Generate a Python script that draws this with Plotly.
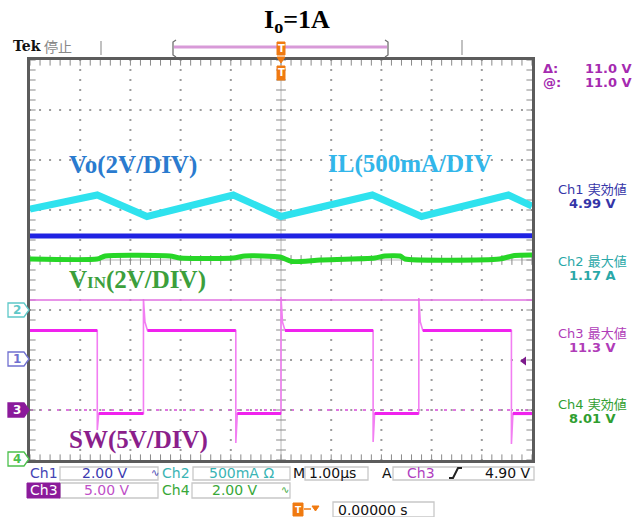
import numpy as np
import plotly.graph_objects as go

# ---------------- data ----------------
# time axis: 1.00 us/div, 10 divisions, trigger at centre
t_range_us = [-5.0, 5.0]

# Ch2: inductor current IL (A), vertices of the triangular ripple
il_t_us = [-5.0, -3.66, -2.67, -0.95, 0.0, 1.82, 2.80, 4.53, 5.0]
il_a = [1.01, 1.15, 0.935, 1.15, 0.935, 1.15, 0.935, 1.15, 1.04]

# Ch1: output voltage Vo (V)
vo_t_us = [-5.0, -2.5, 0.0, 2.5, 5.0]
vo_v = [4.96, 4.97, 4.96, 4.96, 4.97]

# Ch4: input voltage Vin (V)
vin_t_us = [-5.0, -3.66, -3.5, -2.21, -2.01, -0.95, -0.72, -0.02, 0.22, 0.78,
            1.87, 2.07, 2.37, 2.47, 4.35, 4.65, 5.0]
vin_v = [8.04, 8.04, 8.16, 8.16, 8.08, 8.08, 8.16, 8.12, 7.94, 8.0,
         8.08, 8.16, 8.16, 8.04, 8.04, 8.18, 8.2]

# Ch3: switch node SW (V)
sw_fall_us = [-3.66, -0.90, 1.835, 4.59]
sw_rise_us = [-2.74, 0.0, 2.745]
sw_undershoot_v = [-2.0, -3.3, -3.2, -3.4]
sw_overshoot_v = [11.1, 11.3, 11.2]
sw_high_v = 7.95
sw_low_v = -0.35
sw_ring_v = 8.8

cursor_v = 11.0          # horizontal cursor on Ch3
trigger_v = 4.90         # Ch3 trigger level

# channel settings: (scale per div, ground position in div from centre)
ch1_scale, ch1_pos = 2.0, -2.0
ch2_scale, ch2_pos = 0.5, -1.0
ch3_scale, ch3_pos = 5.0, -3.0
ch4_scale, ch4_pos = 2.0, -4.0

readout_titles = ["Ch1 実効値", "Ch2 最大値", "Ch3 最大値", "Ch4 実効値"]
readout_values = ["4.99 V", "1.17 A", "11.3 V", "8.01 V"]
readout_colors = ["#3535a8", "#2aa8a8", "#b03cb8", "#2f9e2f"]
readout_y_px = [188, 260, 332, 403]

# ---------------- geometry helpers ----------------
W, H = 636, 517
L, R, T, B = 30, 532, 60, 460


def px(x):
    return (x - L) / (R - L)


def py(y):
    return (B - y) / (B - T)


def ch_range(scale, pos):
    return [(-4 - pos) * scale, (4 - pos) * scale]


fig = go.Figure()

# ---------------- graticule (dots and ticks) ----------------
GRID = "#9c9c9c"
fine_y = np.round(np.arange(-4, 4.001, 0.2), 3)
fine_x = np.round(np.arange(-5, 5.001, 0.2), 3)
dot_x, dot_y = [], []
for gx in [-4, -3, -2, -1, 1, 2, 3, 4]:
    dot_x += [gx] * len(fine_y)
    dot_y += list(fine_y)
for gy in [-3, -2, -1, 1, 2, 3]:
    dot_x += list(fine_x)
    dot_y += [gy] * len(fine_x)
fig.add_trace(go.Scatter(x=dot_x, y=dot_y, mode="markers",
                         marker=dict(symbol="square", size=2, color=GRID, line=dict(width=0)),
                         hoverinfo="skip", showlegend=False))
# centre-line ticks
fig.add_trace(go.Scatter(x=[0] * len(fine_y), y=fine_y, mode="markers",
                         marker=dict(symbol="line-ew", size=7,
                                     line=dict(width=1, color="#8a8a8a")),
                         hoverinfo="skip", showlegend=False))
fig.add_trace(go.Scatter(x=fine_x, y=[0] * len(fine_x), mode="markers",
                         marker=dict(symbol="line-ns", size=7,
                                     line=dict(width=1, color="#8a8a8a")),
                         hoverinfo="skip", showlegend=False))
# border ticks (half of each mark is clipped away by the plot edge)
fig.add_trace(go.Scatter(x=list(fine_x) * 2, y=[4] * len(fine_x) + [-4] * len(fine_x),
                         mode="markers", cliponaxis=True,
                         marker=dict(symbol="line-ns", size=8,
                                     line=dict(width=1, color="#8a8a8a")),
                         hoverinfo="skip", showlegend=False))
fig.add_trace(go.Scatter(x=[-5] * len(fine_y) + [5] * len(fine_y), y=list(fine_y) * 2,
                         mode="markers", cliponaxis=True,
                         marker=dict(symbol="line-ew", size=8,
                                     line=dict(width=1, color="#8a8a8a")),
                         hoverinfo="skip", showlegend=False))

# ---------------- waveforms ----------------
fig.add_trace(go.Scatter(x=il_t_us, y=il_a, mode="lines", yaxis="y3",
                         line=dict(color="#2fe2ee", width=7),
                         showlegend=False, hoverinfo="skip"))
fig.add_trace(go.Scatter(x=vo_t_us, y=vo_v, mode="lines", yaxis="y2",
                         line=dict(color="#1f22e2", width=5),
                         showlegend=False, hoverinfo="skip"))
fig.add_trace(go.Scatter(x=vin_t_us, y=vin_v, mode="lines", yaxis="y5",
                         line=dict(color="#27d627", width=5, shape="spline", smoothing=0.6),
                         showlegend=False, hoverinfo="skip"))

# SW path built from the edge times and levels
edges = sorted([(t, "f", i) for i, t in enumerate(sw_fall_us)] +
               [(t, "r", i) for i, t in enumerate(sw_rise_us)])
state = sw_high_v if edges[0][1] == "f" else sw_low_v
sx, sy = [t_range_us[0]], [state]
lx, ly = [t_range_us[0]], [state]
for t, kind, i in edges:
    if kind == "f":
        sx += [t, t, t + 0.03]
        sy += [sw_high_v, sw_undershoot_v[i], sw_low_v]
        lx += [t, None, t + 0.03]
        ly += [sw_high_v, None, sw_low_v]
        state = sw_low_v
    else:
        sx += [t, t, t + 0.03, t + 0.08]
        sy += [sw_low_v, sw_overshoot_v[i], sw_ring_v, sw_high_v]
        lx += [t, None, t + 0.08]
        ly += [sw_low_v, None, sw_high_v]
        state = sw_high_v
sx.append(t_range_us[1]); sy.append(state)
lx.append(t_range_us[1]); ly.append(state)

fig.add_trace(go.Scatter(x=sx, y=sy, mode="lines", yaxis="y4",
                         line=dict(color="#f27ef2", width=1.6),
                         showlegend=False, hoverinfo="skip"))
fig.add_trace(go.Scatter(x=lx, y=ly, mode="lines", yaxis="y4",
                         line=dict(color="#f022ee", width=3.2),
                         connectgaps=False, showlegend=False, hoverinfo="skip"))
# trigger level arrow
fig.add_trace(go.Scatter(x=[4.84], y=[trigger_v], mode="markers", yaxis="y4",
                         marker=dict(symbol="triangle-left", size=8, color="#7d1a8c"),
                         showlegend=False, hoverinfo="skip"))

# ---------------- axes ----------------
common = dict(showticklabels=False, zeroline=False, fixedrange=True, showgrid=False,
              ticks="")
fig.update_layout(
    width=W, height=H, autosize=False,
    margin=dict(l=L, r=W - R, t=T, b=H - B, pad=0),
    paper_bgcolor="white", plot_bgcolor="white",
    xaxis=dict(range=t_range_us, showline=True, linecolor="#5c5c5c", linewidth=3,
               mirror=True, **common),
    yaxis=dict(range=[-4, 4], showline=True, linecolor="#5c5c5c", linewidth=3,
               mirror=True, **common),
    yaxis2=dict(range=ch_range(ch1_scale, ch1_pos), overlaying="y", visible=False, **common),
    yaxis3=dict(range=ch_range(ch2_scale, ch2_pos), overlaying="y", visible=False, **common),
    yaxis4=dict(range=ch_range(ch3_scale, ch3_pos), overlaying="y", visible=False, **common),
    yaxis5=dict(range=ch_range(ch4_scale, ch4_pos), overlaying="y", visible=False, **common),
)

shapes = []
# centre cross lines
shapes.append(dict(type="line", xref="x", yref="paper", x0=0, x1=0, y0=0, y1=1,
                   line=dict(color="#b8b8b8", width=1), layer="below"))
shapes.append(dict(type="line", xref="paper", yref="y", x0=0, x1=1, y0=0, y1=0,
                   line=dict(color="#b8b8b8", width=1), layer="below"))
# Ch3 cursor and Ch3 ground reference
shapes.append(dict(type="line", xref="paper", yref="y4", x0=0, x1=1, y0=cursor_v, y1=cursor_v,
                   line=dict(color="#e070e0", width=1.5)))
shapes.append(dict(type="line", xref="paper", yref="y4", x0=0, x1=1, y0=0, y1=0,
                   line=dict(color="#d84ad8", width=1.3, dash="3px,6px"), layer="below"))


def pline(x0, y0, x1, y1, color, width):
    shapes.append(dict(type="line", xref="paper", yref="paper",
                       x0=px(x0), y0=py(y0), x1=px(x1), y1=py(y1),
                       line=dict(color=color, width=width)))


def prect(x0, y0, x1, y1, line, fill, width=1.3):
    shapes.append(dict(type="rect", xref="paper", yref="paper",
                       x0=px(x0), y0=py(y0), x1=px(x1), y1=py(y1),
                       line=dict(color=line, width=width), fillcolor=fill))


def ppath(pts, line, fill=None, width=1.3, closed=True):
    d = "M " + " L ".join(f"{px(a):.5f},{py(b):.5f}" for a, b in pts)
    if closed:
        d += " Z"
    s = dict(type="path", xref="paper", yref="paper", path=d,
             line=dict(color=line, width=width))
    if fill:
        s["fillcolor"] = fill
    shapes.append(s)


# top record-length bar
pline(101, 41, 101, 55, "#a0a0a0", 1.3)
pline(462, 40, 462, 55, "#a0a0a0", 1.3)
ppath([(176, 40), (173, 42), (173, 55), (176, 57)], "#707070", width=1.3, closed=False)
ppath([(385, 40), (388, 42), (388, 55), (385, 57)], "#707070", width=1.3, closed=False)
pline(174, 47, 387, 47, "#d89ad8", 3)
# trigger position markers (orange)
prect(277, 42, 285, 55, "#f07a10", "#f07a10", 1)
ppath([(277, 57), (285, 57), (281, 63)], "#f07a10", "#f07a10", 1)
prect(277, 66, 285, 80, "#f07a10", "#f07a10", 1)

# left channel markers
ppath([(8, 303), (24, 303), (29, 310), (24, 317), (8, 317)], "#5ec8c8", "white", 1.3)
ppath([(8, 352), (24, 352), (29, 359), (24, 366), (8, 366)], "#7070d0", "white", 1.3)
ppath([(8, 403), (24, 403), (29, 410), (24, 417), (8, 417)], "#8b1a9b", "#8b1a9b", 1.3)
ppath([(8, 452), (24, 452), (29, 459), (24, 466), (8, 466)], "#4cc04c", "white", 1.3)

# status boxes
box_line = "#c8c8c8"
prect(60, 467, 158, 480, box_line, "white")
prect(193, 467, 290, 480, box_line, "white")
prect(305, 467, 368, 480, box_line, "white")
prect(393, 467, 534, 480, box_line, "white")
prect(60, 483, 158, 498, box_line, "white")
prect(192, 483, 290, 498, box_line, "white")
prect(27, 483, 60, 498, "#8b1a9b", "#8b1a9b", 1)
prect(333, 502, 434, 517, box_line, "white")
# trigger slope symbol
ppath([(449, 478), (453, 478), (458, 468), (462, 468)], "#222222", width=2, closed=False)
# horizontal position icon
prect(293, 503, 303, 516, "#f07a10", "#f07a10", 1)
pline(304, 509, 311, 509, "#f07a10", 1.5)
ppath([(312, 506), (319, 506), (315.5, 511)], "#f07a10", "#f07a10", 1)

fig.update_layout(shapes=shapes)

anns = []


def ann(x, y, text, color="black", size=13, family="DejaVu Sans", xanchor="left",
        yanchor="middle", bold=False):
    if bold:
        text = f"<b>{text}</b>"
    anns.append(dict(xref="paper", yref="paper", x=px(x), y=py(y), text=text,
                     showarrow=False, xanchor=xanchor, yanchor=yanchor,
                     font=dict(color=color, size=size, family=family)))


serif = "Liberation Serif"
# title
ann(297, 21, "I<sub>o</sub>=1A", "black", 26, serif, "center", bold=True)
# header
ann(11, 46, "Tek", "#111111", 14, "DejaVu Serif", bold=True)
ann(42, 46, "停止", "#888888", 14, "Noto Sans CJK JP")
# channel labels inside the graticule
ann(67, 165, "Vo(2V/DIV)", "#2a7bcf", 25, serif, bold=True)
ann(326, 164, "IL(500mA/DIV", "#32b6ea", 25, serif, bold=True)
ann(67, 280, "V<span style='font-size:17px'>IN</span>(2V/DIV)", "#3c9f3c", 25, serif, bold=True)
ann(67, 440, "SW(5V/DIV)", "#8b1f8b", 25, serif, bold=True)
# cursor readout
ann(541, 68, "Δ:", "#a52ab0", 13, bold=True)
ann(634, 68, "11.0 V", "#a52ab0", 13, xanchor="right", bold=True)
ann(541, 82, "@:", "#a52ab0", 13, bold=True)
ann(634, 82, "11.0 V", "#a52ab0", 13, xanchor="right", bold=True)
# measurement readouts
for ttl, val, col, yy in zip(readout_titles, readout_values, readout_colors, readout_y_px):
    ch, meas = ttl.split(" ")
    ann(592, yy, f"{ch} <span style='font-family:Noto Sans CJK JP'>{meas}</span>", col, 13,
        xanchor="center")
    ann(592, yy + 15, val, col, 13, xanchor="center", bold=True)
# left marker numbers
ann(17, 310, "2", "#5ec8c8", 12, xanchor="center", bold=True)
ann(17, 359, "1", "#7070d0", 12, xanchor="center", bold=True)
ann(17, 410, "3", "white", 12, xanchor="center", bold=True)
ann(17, 459, "4", "#4cc04c", 12, xanchor="center", bold=True)
# trigger T glyphs
ann(281, 49, "T", "white", 10, xanchor="center", bold=True)
ann(281, 73, "T", "white", 10, xanchor="center", bold=True)
ann(298, 510, "T", "white", 9, xanchor="center", bold=True)
# status bar
ann(28, 473, "Ch1", "#4444b4", 14)
ann(80, 473, "2.00 V", "#3a3ab0", 14)
ann(149, 472, "∿", "#4444b4", 10)
ann(160, 473, "Ch2", "#3ab4b4", 14)
ann(207, 473, "500mA Ω", "#3ab4b4", 14)
ann(291, 473, "M", "#111111", 14)
ann(307, 473, "1.00µs", "#111111", 14)
ann(380, 473, "A", "#111111", 14)
ann(405, 473, "Ch3", "#b040c0", 14)
ann(533, 473, "4.90 V", "#111111", 14, xanchor="right")
ann(28, 490, "Ch3", "white", 14)
ann(82, 490, "5.00 V", "#c050c8", 14)
ann(160, 490, "Ch4", "#38a838", 14)
ann(210, 490, "2.00 V", "#38a838", 14)
ann(279, 489, "∿", "#38a838", 10)
ann(336, 510, "0.00000 s", "#111111", 14)

fig.update_layout(annotations=anns)

fig.write_html("out.html", config={"displayModeBar": False},
               post_script="document.body.style.margin='0';")
